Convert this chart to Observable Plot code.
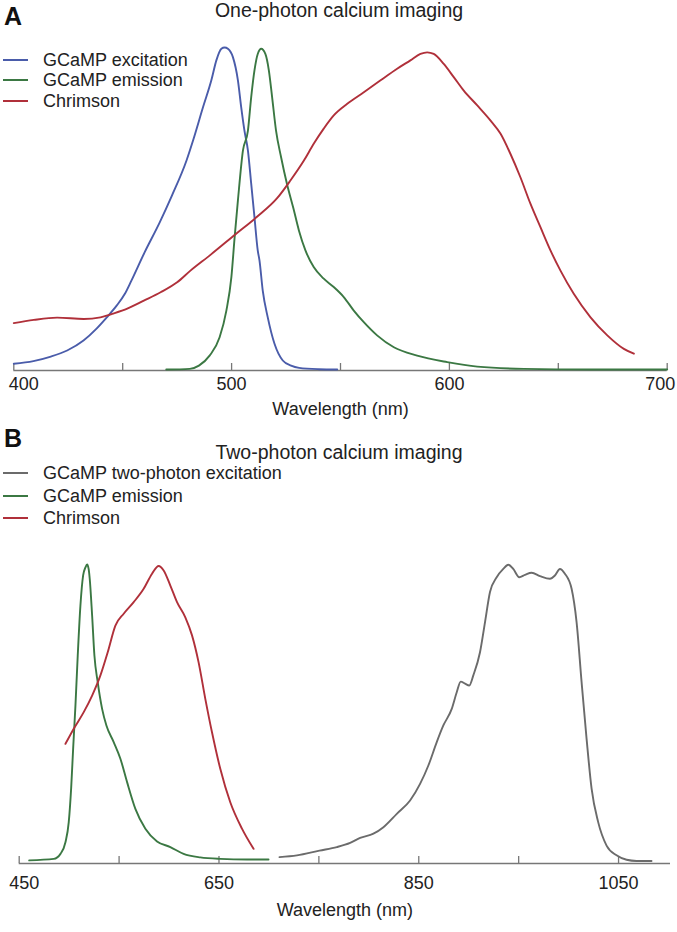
<!DOCTYPE html>
<html><head><meta charset="utf-8">
<script src="https://cdn.jsdelivr.net/npm/d3@7"></script>
<script src="https://cdn.jsdelivr.net/npm/@observablehq/plot@0.6"></script>
<style>
body{margin:0;background:#fff;}
#fig{position:relative;width:677px;height:932px;font-family:"Liberation Sans",Arial,sans-serif;color:#222;overflow:hidden;background:#fff}
.abs{position:absolute;white-space:nowrap}
.letter{font-weight:bold;font-size:25px;line-height:25px;color:#111}
.title{font-size:19.5px;line-height:20px;transform:translateX(-50%)}
.leg{font-size:18px;line-height:20px;display:flex;align-items:center}
.sw{width:25px;height:0;border-top:2px solid;margin-right:15px}
#fig svg{position:absolute;left:0}
</style></head>
<body><div id="fig"></div>
<script>
// ---------- Data (normalized spectra) ----------
const aExcitation = [[400,0.018],[409,0.026],[417,0.040],[424.5,0.059],[432,0.090],[438,0.127],[442.7,0.162],[447.3,0.199],[451,0.235],[454,0.276],[460,0.363],[467,0.457],[472.6,0.540],[479.3,0.649],[482.3,0.711],[486.9,0.815],[490.7,0.898],[493,0.96],[495.3,0.996],[496.8,1.0],[498.3,0.996],[500.6,0.97],[502.9,0.898],[504.4,0.815],[505.9,0.742],[507.5,0.68],[509,0.577],[510.5,0.473],[512,0.37],[512.8,0.339],[514.3,0.245],[516.6,0.162],[519.7,0.08],[523.5,0.028],[527.3,0.012],[531,0.005],[540,0.001],[548.5,0]];
const aEmission = [[470,0],[480.8,0.002],[485,0.012],[489.9,0.043],[494.5,0.100],[497.6,0.183],[499.9,0.287],[501.4,0.411],[502.9,0.525],[505.2,0.680],[507.5,0.742],[509,0.846],[510.5,0.929],[512,0.98],[513.6,0.996],[515.5,0.98],[517.1,0.929],[518.6,0.846],[520.4,0.742],[522.7,0.66],[525.4,0.577],[528.4,0.50],[530.9,0.432],[533.9,0.37],[537.7,0.318],[542.3,0.282],[546.9,0.256],[551.5,0.225],[556.1,0.183],[560.7,0.147],[566.8,0.106],[574.5,0.069],[585.2,0.043],[599,0.023],[612.8,0.009],[634.2,0.002],[664.8,0],[700,0]];
const aChrimson = [[400,0.144],[409.2,0.154],[419.9,0.161],[432.1,0.157],[439.8,0.162],[445.2,0.173],[452.1,0.189],[459.7,0.214],[467.4,0.24],[475,0.271],[481.1,0.307],[490.3,0.356],[501.8,0.42],[511.8,0.475],[520.9,0.532],[527,0.587],[533.2,0.649],[537.7,0.701],[542.3,0.748],[546.9,0.789],[553.1,0.825],[560.7,0.861],[568.4,0.898],[576,0.934],[582.1,0.96],[586.7,0.98],[589.8,0.985],[592.8,0.98],[597.4,0.949],[602,0.908],[606.6,0.866],[612.8,0.82],[618.9,0.773],[623.5,0.732],[628,0.67],[632.6,0.597],[637.2,0.515],[641.8,0.442],[646.4,0.37],[651,0.307],[657.1,0.235],[664.8,0.162],[672.5,0.106],[680.1,0.064],[684.7,0.049]];

const bTwoPhoton = [[710.6,0.013],[728,0.019],[750.6,0.035],[768,0.047],[781.3,0.061],[791.3,0.078],[804.6,0.092],[814.6,0.114],[828,0.159],[841.3,0.204],[851.3,0.26],[859.6,0.322],[868,0.401],[874.6,0.457],[883,0.513],[888,0.569],[892,0.605],[896.3,0.598],[900.6,0.592],[904.6,0.626],[911.3,0.704],[916.3,0.805],[921.3,0.907],[928,0.957],[934.6,0.985],[939.6,0.999],[944.6,0.985],[950.6,0.957],[956.3,0.965],[963,0.972],[971.3,0.961],[981.3,0.952],[986.3,0.963],[991.3,0.985],[996.3,0.969],[1003,0.918],[1008,0.805],[1013,0.603],[1018,0.412],[1023,0.244],[1029.6,0.131],[1038,0.052],[1048,0.019],[1058,0.004],[1068,0],[1083,0]];
const bEmission = [[460,0.002],[484.6,0.007],[491.3,0.024],[496.3,0.063],[499.6,0.131],[502,0.245],[504,0.379],[506.3,0.524],[508.6,0.693],[511.3,0.862],[514,0.963],[516.3,0.99],[518,1.0],[519.5,0.985],[520.6,0.952],[523,0.828],[525.3,0.693],[528.6,0.603],[533,0.513],[537.3,0.457],[544.6,0.401],[551.3,0.345],[558,0.266],[566.3,0.176],[576.3,0.109],[588,0.066],[601.3,0.047],[614.6,0.024],[631.3,0.012],[651.3,0.007],[678,0.005],[699.6,0.005]];
const bChrimson = [[496.3,0.395],[504.6,0.446],[514.6,0.502],[523,0.558],[531.3,0.626],[538.6,0.704],[546.3,0.794],[554.6,0.834],[564.6,0.873],[574.6,0.918],[583,0.969],[589.6,0.995],[594.6,0.98],[601.3,0.929],[608,0.873],[616.3,0.822],[623,0.761],[629.6,0.67],[636.3,0.547],[643,0.434],[651.3,0.311],[661.3,0.198],[673,0.109],[684.6,0.041]];

const seriesA = ["GCaMP excitation","GCaMP emission","Chrimson"];
const seriesB = ["GCaMP two-photon excitation","GCaMP emission","Chrimson"];
const ticksA = [400,450,500,550,600,650,700];
const labelsA = [400,500,600,700];
const ticksB = [450,550,650,750,850,950,1050];
const labelsB = [450,650,850,1050];
const titleA = "One-photon calcium imaging";
const titleB = "Two-photon calcium imaging";
const xLabel = "Wavelength (nm)";

// ---------- Styles ----------
const colors = {"GCaMP excitation":"#4a5caa","GCaMP emission":"#3b7843","Chrimson":"#b0303a","GCaMP two-photon excitation":"#6b6b6b"};
const axisColor = "#777777";
const FONT = "'Liberation Sans', Arial, sans-serif";
const W = 677;

function toRows(pairs, name){ return pairs.map(([x,y]) => ({x, y, s:name})); }

const dataA = [...toRows(aExcitation, seriesA[0]), ...toRows(aEmission, seriesA[1]), ...toRows(aChrimson, seriesA[2])];
const dataB = [...toRows(bTwoPhoton, seriesB[0]), ...toRows(bEmission, seriesB[1]), ...toRows(bChrimson, seriesB[2])];

function makePanel(o){
  const innerH = o.height - o.mt - o.mb;
  const first = o.labels[0], last = o.labels[o.labels.length-1];
  const mid = o.labels.filter(d => d !== first && (!o.endLast || d !== last));
  const lab = d => String(d);
  const marks = [
    Plot.ruleY([o.yDomain[0]], {stroke: axisColor, strokeWidth: 1.3}),
    Plot.ruleX(o.ticks, {x: d => d, insetTop: innerH - 7, stroke: axisColor, strokeWidth: 1.3}),
    Plot.line(o.data, {x:"x", y:"y", z:"s", stroke: d => colors[d.s], strokeWidth: 1.9, curve: "monotone-x"}),
    Plot.text([first], {x: d => d, text: lab, frameAnchor: "bottom", dy: o.tickDy, dx: o.firstDx, textAnchor: "start", fontSize: 18, fill: "#222"}),
    Plot.text(mid, {x: d => d, text: lab, frameAnchor: "bottom", dy: o.tickDy, fontSize: 18, fill: "#222"}),
    Plot.text([xLabel], {frameAnchor: "bottom", dy: o.labelDy, fontSize: 18, fill: "#222"})
  ];
  if (o.endLast) marks.push(Plot.text([last], {x: d => d, text: lab, frameAnchor: "bottom", dy: o.tickDy, dx: o.lastDx, textAnchor: "end", fontSize: 18, fill: "#222"}));
  const svg = Plot.plot({
    width: W, height: o.height,
    marginTop: o.mt, marginBottom: o.mb, marginLeft: o.ml, marginRight: o.mr,
    x: {domain: o.xDomain, axis: null},
    y: {domain: o.yDomain, axis: null},
    style: {fontFamily: FONT, background: "transparent", overflow: "visible"},
    marks
  });
  svg.style.top = o.top + "px";
  return svg;
}

const fig = document.getElementById("fig");
fig.appendChild(makePanel({data: dataA, ticks: ticksA, labels: labelsA, xDomain: [400,700], yDomain: [-0.0031,1],
  height: 430, top: 0, mt: 47, mb: 60, ml: 13.3, mr: 10.3, tickDy: 19, labelDy: 44, firstDx: -5, endLast: true, lastDx: 8}));
fig.appendChild(makePanel({data: dataB, ticks: ticksB, labels: labelsB, xDomain: [450,1102], yDomain: [-0.0085,1],
  height: 392, top: 540, mt: 24, mb: 69, ml: 18.7, mr: 7, tickDy: 25, labelDy: 52, firstDx: -10, endLast: false}));

function addText(cls, text, left, top){
  const d = document.createElement("div");
  d.className = "abs " + cls; d.textContent = text;
  d.style.left = left + "px"; d.style.top = top + "px";
  fig.appendChild(d); return d;
}
function addLegend(names, tops){
  names.forEach((n,i) => {
    const d = document.createElement("div");
    d.className = "abs leg"; d.style.left = "3px"; d.style.top = tops[i] + "px";
    const sw = document.createElement("span"); sw.className = "sw"; sw.style.borderColor = colors[n];
    const t = document.createElement("span"); t.textContent = n;
    d.appendChild(sw); d.appendChild(t); fig.appendChild(d);
  });
}
addText("letter", "A", 4, 4);
addText("title", titleA, 339, 0);
addLegend(seriesA, [50, 70, 91]);
addText("letter", "B", 4, 426);
addText("title", titleB, 339, 442);
addLegend(seriesB, [463, 486, 508]);
</script></body></html>
